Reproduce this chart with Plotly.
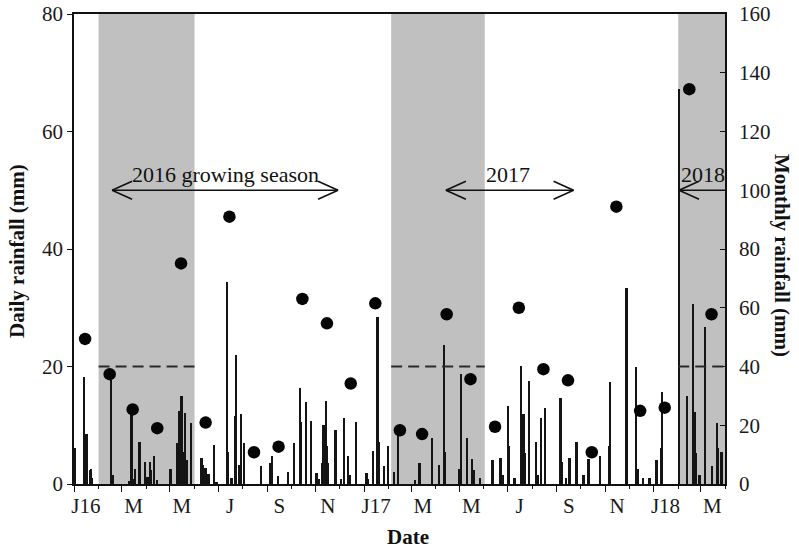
import plotly.graph_objects as go

# ---------------- data ----------------
daily_dates = [
    "2016-01-02", "2016-01-14", "2016-01-17", "2016-01-18", "2016-01-22", "2016-01-23", "2016-01-24",
    "2016-02-17", "2016-02-19",
    "2016-03-11", "2016-03-14", "2016-03-15", "2016-03-18", "2016-03-24", "2016-03-31",
    "2016-04-03", "2016-04-06", "2016-04-07", "2016-04-11", "2016-04-15",
    "2016-05-02", "2016-05-10", "2016-05-11", "2016-05-13", "2016-05-14", "2016-05-15", "2016-05-16",
    "2016-05-17", "2016-05-20", "2016-05-23", "2016-05-28",
    "2016-06-10", "2016-06-12", "2016-06-15", "2016-06-19", "2016-06-26", "2016-06-29",
    "2016-07-12", "2016-07-13", "2016-07-18", "2016-07-22", "2016-07-24", "2016-07-28", "2016-07-30",
    "2016-08-03", "2016-08-24",
    "2016-09-05", "2016-09-07", "2016-09-15", "2016-09-27",
    "2016-10-05", "2016-10-12", "2016-10-14", "2016-10-20", "2016-10-26",
    "2016-11-02", "2016-11-05", "2016-11-09", "2016-11-11", "2016-11-14", "2016-11-15", "2016-11-16",
    "2016-11-26",
    "2016-12-03", "2016-12-07", "2016-12-12", "2016-12-14", "2016-12-22",
    "2017-01-04", "2017-01-06", "2017-01-12", "2017-01-18", "2017-01-20", "2017-01-26", "2017-01-31",
    "2017-02-08", "2017-02-13",
    "2017-03-06", "2017-03-12", "2017-03-28",
    "2017-04-06", "2017-04-12", "2017-04-13",
    "2017-05-01", "2017-05-03", "2017-05-11", "2017-05-17", "2017-05-19", "2017-05-27",
    "2017-06-12", "2017-06-22", "2017-06-25",
    "2017-07-02", "2017-07-03", "2017-07-10", "2017-07-18", "2017-07-21", "2017-07-23", "2017-07-28",
    "2017-08-06", "2017-08-08", "2017-08-12", "2017-08-17",
    "2017-09-06", "2017-09-08", "2017-09-13", "2017-09-17", "2017-09-26",
    "2017-10-05", "2017-10-11", "2017-10-26",
    "2017-11-06", "2017-11-07", "2017-11-28", "2017-11-29",
    "2017-12-10", "2017-12-13", "2017-12-19", "2017-12-27",
    "2018-01-05", "2018-01-11", "2018-01-12",
    "2018-02-02", "2018-02-12", "2018-02-20", "2018-02-22", "2018-02-24", "2018-02-28",
    "2018-03-07", "2018-03-16", "2018-03-22", "2018-03-23", "2018-03-28",
]
daily_mm = [
    6.2, 18.2, 8.5, 7.2, 2.4, 2.6, 1.0,
    17.7, 1.5,
    0.5, 12.7, 0.8, 2.6, 7.1, 3.8,
    1.2, 3.8, 2.4, 4.8, 0.7,
    2.6, 5.8, 6.9, 12.4, 9.0, 3.0, 14.9,
    5.5, 12.1, 4.1, 10.3,
    4.5, 3.2, 2.8, 1.7, 6.6, 0.4,
    34.3, 5.5, 1.0, 11.5, 21.9, 3.2, 11.9,
    6.9, 3.0,
    3.5, 4.7, 1.4, 2.1,
    6.9, 16.3, 10.6, 13.9, 10.8,
    1.8, 0.8, 3.6, 10.0, 14.1, 6.4, 3.5,
    9.2,
    0.8, 11.3, 4.8, 1.5, 10.6,
    1.8, 0.9, 5.7, 28.5, 7.1, 3.0, 6.5,
    2.1, 8.6,
    0.7, 3.5, 7.8,
    3.2, 23.7, 5.5,
    2.5, 18.7, 7.8, 4.3, 2.3, 1.0,
    4.1, 4.5, 1.5,
    13.3, 6.4, 1.0, 20.1, 11.9, 5.2, 17.5,
    7.2, 1.5, 11.3, 13.0,
    14.7, 3.8, 1.0, 4.5, 7.1,
    1.6, 4.3, 4.7,
    6.4, 17.3, 33.3, 22.5,
    19.9, 2.6, 1.0, 1.0,
    4.1, 6.1, 15.7,
    67.2, 14.9, 30.6, 12.3, 5.2, 1.5,
    26.8, 3.0, 10.4, 6.1, 5.5,
]

monthly_dates = [
    "2016-01-15", "2016-02-15", "2016-03-15", "2016-04-15", "2016-05-15", "2016-06-15",
    "2016-07-15", "2016-08-15", "2016-09-15", "2016-10-15", "2016-11-15", "2016-12-15",
    "2017-01-15", "2017-02-15", "2017-03-15", "2017-04-15", "2017-05-15", "2017-06-15",
    "2017-07-15", "2017-08-15", "2017-09-15", "2017-10-15", "2017-11-15", "2017-12-15",
    "2018-01-15", "2018-02-15", "2018-03-15",
]
monthly_mm = [
    49.4, 37.4, 25.4, 19.0, 75.1, 20.9,
    91.0, 10.8, 12.7, 63.0, 54.7, 34.2,
    61.5, 18.3, 17.0, 57.8, 35.7, 19.5,
    60.0, 39.1, 35.3, 10.8, 94.4, 24.9,
    26.0, 134.4, 57.8,
]

tick_label_dates = [
    "2016-01-16", "2016-03-16", "2016-05-16", "2016-07-16", "2016-09-16", "2016-11-16",
    "2017-01-16", "2017-03-16", "2017-05-16", "2017-07-16", "2017-09-16", "2017-11-16",
    "2018-01-16", "2018-03-16",
]
tick_labels = ["J16", "M", "M", "J", "S", "N", "J17", "M", "M", "J", "S", "N", "J18", "M"]
major_tick_dates = [
    "2016-01-01", "2016-03-01", "2016-05-01", "2016-07-01", "2016-09-01", "2016-11-01",
    "2017-01-01", "2017-03-01", "2017-05-01", "2017-07-01", "2017-09-01", "2017-11-01",
    "2018-01-01", "2018-03-01",
]

season_starts = ["2016-02-01", "2017-02-04", "2018-02-01"]
season_ends = ["2016-06-01", "2017-06-02", "2018-04-01"]
threshold_mm = 20

arrow_starts = ["2016-02-18", "2017-04-14", "2018-02-02"]
arrow_ends = ["2016-11-29", "2017-09-22", "2018-04-01"]
arrow_heads = [("left", "right"), ("left", "right"), ("left",)]
arrow_level = 50
arrow_labels = ["2016 growing season", "2017", "2018"]
arrow_label_dates = ["2016-07-10", "2017-07-01", "2018-03-04"]

x_range = ["2016-01-01", "2018-04-01"]

FONT = "Liberation Serif"
DAY_MS = 86400000

# ---------------- figure ----------------
fig = go.Figure()

fig.add_trace(go.Bar(
    x=daily_dates, y=daily_mm, xaxis="x", yaxis="y",
    width=[2.3 * DAY_MS] * len(daily_dates),
    marker=dict(color="#141414", line=dict(width=0)),
    showlegend=False, hoverinfo="x+y",
))

fig.add_trace(go.Scatter(
    x=monthly_dates, y=monthly_mm, xaxis="x2", yaxis="y2",
    mode="markers",
    marker=dict(size=12.5, color="#050505"),
    showlegend=False,
))

shapes = []
for s, e in zip(season_starts, season_ends):
    shapes.append(dict(type="rect", xref="x", yref="paper", x0=s, x1=e, y0=0, y1=1,
                       fillcolor="#c0c0c0", line=dict(width=0), layer="below"))
    shapes.append(dict(type="line", xref="x", yref="y", x0=s, x1=e, y0=threshold_mm, y1=threshold_mm,
                       line=dict(color="#2a2a2a", width=2.2, dash="11px,6px"), layer="above"))

for s, e, heads in zip(arrow_starts, arrow_ends, arrow_heads):
    shapes.append(dict(type="line", xref="x", yref="y", x0=s, x1=e, y0=arrow_level, y1=arrow_level,
                       line=dict(color="#111111", width=1.6)))
    for h in heads:
        anchor = s if h == "left" else e
        dx = 20 if h == "left" else -20
        for dy in (9, -9):
            shapes.append(dict(type="line", xref="x", yref="y",
                               xsizemode="pixel", ysizemode="pixel",
                               xanchor=anchor, yanchor=arrow_level,
                               x0=0, x1=dx, y0=0, y1=dy,
                               line=dict(color="#111111", width=1.6)))

annotations = []
for lbl, d in zip(arrow_labels, arrow_label_dates):
    annotations.append(dict(x=d, y=arrow_level, xref="x", yref="y", text=lbl, showarrow=False,
                            xanchor="center", yanchor="bottom", yshift=1,
                            font=dict(family=FONT, size=22, color="#111111")))

annotations.append(dict(x=0, y=0.5, xref="paper", yref="paper", text="<b>Daily rainfall (mm)</b>",
                        textangle=-90, showarrow=False, xanchor="center", yanchor="middle",
                        xshift=-57, yshift=-2, font=dict(family=FONT, size=21, color="#111111")))
annotations.append(dict(x=1, y=0.5, xref="paper", yref="paper", text="<b>Monthly rainfall (mm)</b>",
                        textangle=90, showarrow=False, xanchor="center", yanchor="middle",
                        xshift=57, yshift=-6, font=dict(family=FONT, size=21, color="#111111")))
annotations.append(dict(x=0.5, y=0, xref="paper", yref="paper", text="<b>Date</b>",
                        showarrow=False, xanchor="center", yanchor="middle",
                        xshift=8, yshift=-53, font=dict(family=FONT, size=21, color="#111111")))

tickfont = dict(family=FONT, size=21, color="#1a1a1a")

fig.update_layout(
    width=799, height=549,
    margin=dict(l=74, r=74, t=14, b=65, autoexpand=False),
    paper_bgcolor="white", plot_bgcolor="white",
    barmode="overlay", bargap=0,
    showlegend=False,
    shapes=shapes, annotations=annotations,
    xaxis=dict(
        type="date", range=x_range, showgrid=False, zeroline=False, automargin=False,
        showline=True, linecolor="#111111", linewidth=1.5, mirror=True,
        tickmode="array", tickvals=major_tick_dates, ticks="outside", ticklen=6,
        tickwidth=1.3, tickcolor="#111111", showticklabels=False,
        minor=dict(dtick="M1", tick0="2016-01-01", ticks="outside", ticklen=3,
                   tickwidth=1.2, tickcolor="#111111", showgrid=False),
    ),
    xaxis2=dict(
        type="date", range=x_range, overlaying="x", anchor="y", side="bottom",
        showgrid=False, zeroline=False, showline=False, automargin=False,
        tickmode="array", tickvals=tick_label_dates, ticktext=tick_labels,
        ticks="", ticklabelstandoff=7, tickfont=tickfont, ticklabeloverflow="allow",
    ),
    yaxis=dict(
        range=[0, 80], tickvals=[0, 20, 40, 60, 80], showgrid=False, zeroline=False,
        showline=True, linecolor="#111111", linewidth=1.5, automargin=False,
        ticks="outside", ticklen=5, tickwidth=1.3, tickcolor="#111111",
        tickfont=tickfont, ticklabeloverflow="allow",
    ),
    yaxis2=dict(
        range=[0, 160], tickvals=[0, 20, 40, 60, 80, 100, 120, 140, 160],
        overlaying="y", side="right", anchor="x", automargin=False,
        showgrid=False, zeroline=False,
        showline=True, linecolor="#111111", linewidth=1.5,
        ticks="inside", ticklen=5, tickwidth=1.3, tickcolor="#111111",
        ticklabelstandoff=8, tickfont=tickfont, ticklabeloverflow="allow",
    ),
)

# remove the browser's default 8px body margin so the figure fills the window exactly
fig.write_html("out.html", config={"displayModeBar": False},
               post_script="document.body.style.margin='0px';")
